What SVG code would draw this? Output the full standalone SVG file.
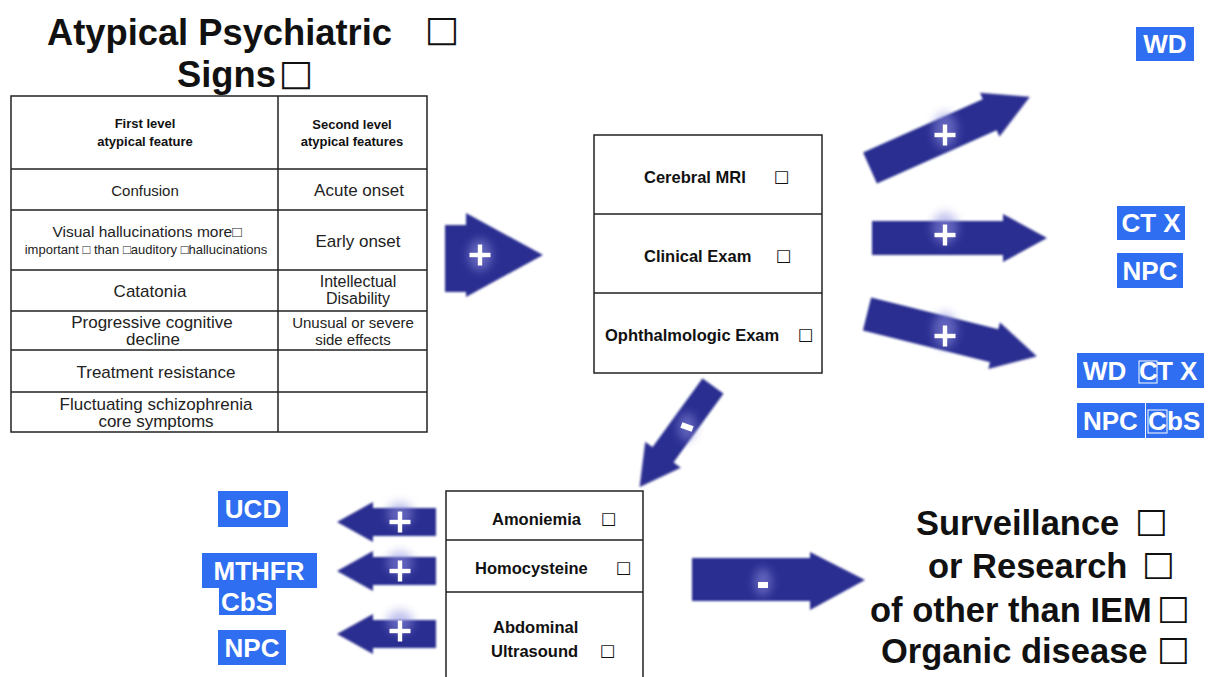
<svg xmlns="http://www.w3.org/2000/svg" width="1215" height="677" viewBox="0 0 1215 677">
<style>
  text { font-family: "Liberation Sans", Arial, sans-serif; fill: #111; }
  .title { font-size: 36.3px; font-weight: bold; }
  .hdr { font-size: 13px; font-weight: bold; text-anchor: middle; }
  .cell { font-size: 17px; text-anchor: middle; fill: #222; }
  .exam { font-size: 16.5px; font-weight: bold; }
  .lab { font-size: 26px; font-weight: bold; fill: #fff; }
  .labc { font-size: 26px; font-weight: bold; fill: #fff; text-anchor: middle; }
  .out { font-size: 34.5px; font-weight: bold; }
  .bx { font-family: "DejaVu Sans", sans-serif; font-weight: normal; }
  .grid { stroke: #222; stroke-width: 1.5; fill: none; }
  .tag { fill: #2f6ef0; }
  .arrow { fill: #2c2f91; filter: url(#soft); }
  .sign { fill: #fff; }
  .glow { fill: #8f90e0; opacity: 0.55; filter: url(#blur); }
</style>
<defs>
  <filter id="soft" x="-10%" y="-20%" width="120%" height="140%"><feGaussianBlur stdDeviation="1"/></filter>
  <filter id="blur" x="-50%" y="-50%" width="200%" height="200%"><feGaussianBlur stdDeviation="5"/></filter>
  <path id="arrR" d="M0,-17 L131,-17 L131,-24 L175,0 L131,24 L131,17 L0,17 Z"/>
  <path id="arrL" d="M0,0 L36,-20 L36,-14 L99,-14 L99,14 L36,14 L36,20 Z"/>
  <path id="arrD" d="M0,-13 L85,-13 L85,-22 L125,0 L85,22 L85,13 L0,13 Z"/>
  <g id="plus"><rect x="-10.5" y="-2.2" width="21" height="4.4"/><rect x="-2.2" y="-10.5" width="4.4" height="21"/></g>
</defs>

<g id="title">
  <text class="title" x="47" y="45">Atypical Psychiatric<tspan class="bx" x="425" dy="-4">□</tspan></text>
  <text class="title" x="177" y="87">Signs<tspan class="bx" x="279" dy="-2">□</tspan></text>
</g>

<g id="table">
  <rect class="grid" x="11" y="96" width="416" height="336"/>
  <path class="grid" d="M278,96 V432 M11,169 H427 M11,210 H427 M11,270 H427 M11,311 H427 M11,350 H427 M11,392 H427"/>
  <text class="hdr" x="145" y="128">First level</text>
  <text class="hdr" x="145" y="146">atypical feature</text>
  <text class="hdr" x="352" y="129">Second level</text>
  <text class="hdr" x="352" y="146">atypical features</text>
  <text class="cell" x="145" y="196" style="font-size:15px">Confusion</text>
  <text class="cell" x="359" y="196">Acute onset</text>
  <text class="cell" x="147" y="237" style="font-size:15.5px">Visual hallucinations more□</text>
  <text class="cell" x="146" y="254" style="font-size:13px">important □ than □auditory □hallucinations</text>
  <text class="cell" x="358" y="247">Early onset</text>
  <text class="cell" x="150" y="297">Catatonia</text>
  <text class="cell" x="358" y="287" style="font-size:16px">Intellectual</text>
  <text class="cell" x="358" y="304" style="font-size:16px">Disability</text>
  <text class="cell" x="152" y="328">Progressive cognitive</text>
  <text class="cell" x="153" y="345">decline</text>
  <text class="cell" x="353" y="328" style="font-size:15px">Unusual or severe</text>
  <text class="cell" x="353" y="345" style="font-size:15px">side effects</text>
  <text class="cell" x="156" y="378">Treatment resistance</text>
  <text class="cell" x="156" y="410">Fluctuating schizophrenia</text>
  <text class="cell" x="156" y="427">core symptoms</text>
</g>

<g id="exams">
  <rect class="grid" x="594" y="135" width="228" height="238"/>
  <path class="grid" d="M594,214 H822 M594,293 H822"/>
  <text class="exam" x="644" y="183">Cerebral MRI<tspan class="bx" x="774" dy="-1">□</tspan></text>
  <text class="exam" x="644" y="262">Clinical Exam<tspan class="bx" x="776" dy="-1">□</tspan></text>
  <text class="exam" x="605" y="341">Ophthalmologic Exam<tspan class="bx" x="798" dy="-1">□</tspan></text>
</g>

<g id="labs">
  <path class="grid" d="M446,677 V491 H643 V677 M446,540 H643 M446,592 H643"/>
  <text class="exam" x="492" y="525">Amoniemia<tspan class="bx" x="601" dy="-1">□</tspan></text>
  <text class="exam" x="475" y="574">Homocysteine<tspan class="bx" x="616" dy="-1">□</tspan></text>
  <text class="exam" x="493" y="633">Abdominal</text>
  <text class="exam" x="491" y="657">Ultrasound<tspan class="bx" x="600" dy="-1">□</tspan></text>
</g>

<g id="outcome">
  <text class="out" x="916" y="535">Surveillance<tspan class="bx" x="1135" dy="-3">□</tspan></text>
  <text class="out" x="928" y="578">or Research<tspan class="bx" x="1142" dy="-3">□</tspan></text>
  <text class="out" x="870" y="622">of other than IEM<tspan class="bx" x="1157" dy="-3">□</tspan></text>
  <text class="out" x="881" y="663">Organic disease<tspan class="bx" x="1157" dy="-3">□</tspan></text>
</g>

<g id="label-wd">
  <rect class="tag" x="1136" y="27" width="58" height="34"/>
  <text class="labc" x="1165" y="53">WD</text>
</g>
<g id="label-ctx">
  <rect class="tag" x="1117" y="206" width="68" height="34"/>
  <text class="labc" x="1151" y="232">CT X</text>
</g>
<g id="label-npc1">
  <rect class="tag" x="1117" y="253" width="66" height="35"/>
  <text class="labc" x="1150" y="280">NPC</text>
</g>
<g id="label-wdctx">
  <rect class="tag" x="1077" y="353" width="127" height="35"/>
  <rect x="1139" y="361" width="18" height="22" fill="none" stroke="#fff" stroke-width="1"/>
  <text class="lab" x="1083" y="380">WD <tspan x="1139">C</tspan><tspan x="1157">T X</tspan></text>
</g>
<g id="label-npccbs">
  <rect class="tag" x="1077" y="403" width="127" height="35"/>
  <path d="M1145.5,403 V438" stroke="#fff" stroke-width="1"/>
  <rect x="1148" y="410" width="19" height="23" fill="none" stroke="#fff" stroke-width="1"/>
  <text class="lab" x="1083" y="430">NPC<tspan x="1148">C</tspan><tspan x="1167">bS</tspan></text>
</g>
<g id="label-ucd">
  <rect class="tag" x="218" y="491" width="70" height="36"/>
  <text class="labc" x="253" y="518">UCD</text>
</g>
<g id="label-mthfr">
  <rect class="tag" x="202" y="553" width="115" height="35"/>
  <rect class="tag" x="219" y="588" width="57" height="27"/>
  <text class="labc" x="259" y="580">MTHFR</text>
  <text class="labc" x="247" y="611">CbS</text>
</g>
<g id="label-npc2">
  <rect class="tag" x="218" y="630" width="68" height="35"/>
  <text class="labc" x="252" y="657">NPC</text>
</g>

<g id="connectors">
  <path class="arrow" d="M445,225 L466,225 L466,213 L543,255 L466,297 L466,292 L445,292 Z"/>
  <ellipse class="glow" cx="480" cy="255" rx="12" ry="16"/>
  <use href="#plus" class="sign" transform="translate(480,255)"/>

  <use href="#arrR" class="arrow" transform="translate(870,168) rotate(-24)"/>
  <ellipse class="glow" cx="945" cy="130" rx="12" ry="18"/>
  <use href="#plus" class="sign" transform="translate(945,135)"/>

  <use href="#arrR" class="arrow" transform="translate(872,238)"/>
  <ellipse class="glow" cx="945" cy="228" rx="13" ry="16"/>
  <use href="#plus" class="sign" transform="translate(945,235)"/>

  <use href="#arrR" class="arrow" transform="translate(867,314) rotate(14)"/>
  <ellipse class="glow" cx="945" cy="330" rx="12" ry="18"/>
  <use href="#plus" class="sign" transform="translate(945,336)"/>

  <use href="#arrD" class="arrow" transform="translate(713,386) rotate(126)"/>
  <ellipse class="glow" cx="687" cy="427" rx="9" ry="14"/>
  <rect class="sign" x="681" y="424" width="12" height="6" transform="rotate(20,687,427)"/>

  <use href="#arrL" class="arrow" transform="translate(337,522)"/>
  <ellipse class="glow" cx="400" cy="514" rx="13" ry="12"/>
  <use href="#plus" class="sign" transform="translate(400,522)"/>
  <use href="#arrL" class="arrow" transform="translate(337,571)"/>
  <ellipse class="glow" cx="400" cy="563" rx="13" ry="12"/>
  <use href="#plus" class="sign" transform="translate(400,571)"/>
  <use href="#arrL" class="arrow" transform="translate(337,634)"/>
  <ellipse class="glow" cx="400" cy="622" rx="13" ry="12"/>
  <use href="#plus" class="sign" transform="translate(400,631)"/>

  <path class="arrow" d="M692,558 L810,558 L810,552 L865,580 L810,610 L810,601 L692,601 Z"/>
  <ellipse class="glow" cx="763" cy="582" rx="9" ry="14"/>
  <rect class="sign" x="758" y="582" width="10" height="6"/>
</g>
</svg>
